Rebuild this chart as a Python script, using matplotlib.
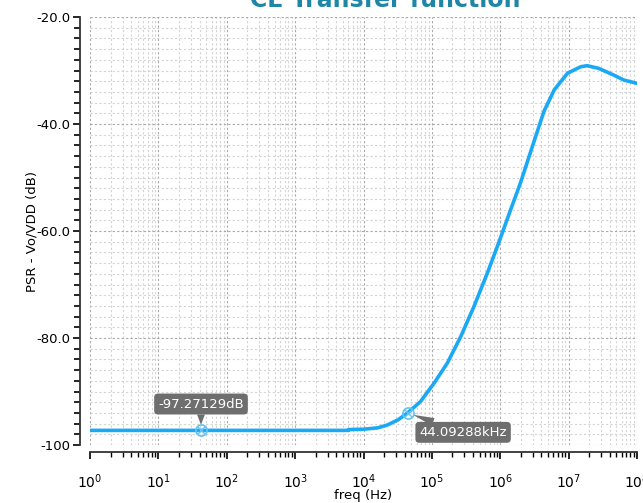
import numpy as np
import matplotlib
matplotlib.use("Agg")
import matplotlib.pyplot as plt
from matplotlib.ticker import LogLocator, MultipleLocator, FixedLocator, NullFormatter

# PSR curve (frequency in Hz, magnitude in dB)
freq = [1.0, 6.0e3, 6.1e3, 1.0e4, 1.6e4, 2.2e4, 3.2e4, 4.409e4, 6.8e4,
        1.07e5, 1.68e5, 2.63e5, 4.13e5, 6.46e5, 9.5e5, 1.43e6, 1.78e6,
        2.0e6, 3.13e6, 4.37e6, 6.17e6, 9.66e6, 1.5e7, 1.86e7, 2.75e7,
        4.47e7, 6.46e7, 1.0e8]
psr_db = [-97.27, -97.27, -97.12, -97.05, -96.8, -96.3, -95.3, -94.0, -91.9,
          -88.5, -84.7, -79.8, -74.1, -67.9, -62.2, -55.9, -52.6,
          -50.8, -43.2, -37.6, -33.6, -30.5, -29.3, -29.1, -29.6,
          -30.8, -31.8, -32.4]

# markers
mark_f = [42.0, 44.09288e3]
mark_db = [-97.27129, -94.0]
mark_txt = ["-97.27129dB", "44.09288kHz"]

y_ticks = [-100, -80, -60, -40, -20]
y_labels = ["-100", "-80.0", "-60.0", "-40.0", "-20.0"]

fig = plt.figure(figsize=(6.43, 5.03), dpi=100)
ax = fig.add_axes([90 / 643, 1 - 445 / 503, 547 / 643, 428 / 503])

ax.semilogx(freq, psr_db, color="#1ba9f5", lw=2.6, zorder=3)
ax.set_xlim(1, 1e8)
ax.set_ylim(-100, -20)

# grid
ax.xaxis.set_major_locator(LogLocator(base=10, numticks=12))
ax.xaxis.set_minor_locator(LogLocator(base=10, subs=np.arange(2, 10), numticks=12))
ax.xaxis.set_minor_formatter(NullFormatter())
ax.yaxis.set_major_locator(FixedLocator(y_ticks))
ax.yaxis.set_minor_locator(MultipleLocator(2))
ax.set_yticklabels(y_labels)
ax.grid(which="major", color="#a8a8a8", ls=(0, (2, 2)), lw=0.8)
ax.grid(which="minor", color="#d4d4d4", ls=(0, (2, 2)), lw=0.8)

for s in ["top", "right"]:
    ax.spines[s].set_visible(False)
ax.spines["left"].set_position(("outward", 7.2))
ax.spines["bottom"].set_position(("outward", 5))
for s in ["left", "bottom"]:
    ax.spines[s].set_linewidth(1.3)
    ax.spines[s].set_color("#333333")

ax.tick_params(axis="y", which="major", length=5, width=1.2, labelsize=9.5, pad=2)
ax.tick_params(axis="y", which="minor", length=4, width=1.2)
ax.tick_params(axis="x", which="major", length=5, width=1.2, labelsize=10, pad=10)
ax.tick_params(axis="x", which="minor", length=3.5, width=1.0)

ax.set_xlabel("freq (Hz)", fontsize=9.5)
ax.xaxis.set_label_coords(0.5, -0.103)
ax.set_ylabel("PSR - Vo/VDD (dB)", fontsize=9.5)
ax.yaxis.set_label_coords(-0.095, 0.5)

# markers with callouts
for f, v in zip(mark_f, mark_db):
    ax.plot(f, v, marker="o", ms=8, mfc="none", mec="#62c3f5", mew=1.2, zorder=4)
    ax.plot(f, v, marker="x", ms=6, mec="#62c3f5", mew=1.0, zorder=4)

box = dict(boxstyle="round,pad=0.3,rounding_size=0.3", fc="#6e6e6e", ec="none")
ax.annotate(mark_txt[0], xy=(mark_f[0], mark_db[0]), xytext=(0, 19),
            textcoords="offset points", ha="center", va="center",
            color="white", fontsize=9.5, bbox=box,
            arrowprops=dict(arrowstyle="wedge,tail_width=0.6", fc="#6e6e6e",
                            ec="none", shrinkA=0, shrinkB=4))
ax.annotate(mark_txt[1], xy=(mark_f[1], mark_db[1]), xytext=(40, -14),
            textcoords="offset points", ha="center", va="center",
            color="white", fontsize=9.5, bbox=box,
            arrowprops=dict(arrowstyle="wedge,tail_width=0.6", fc="#6e6e6e",
                            ec="none", shrinkA=0, shrinkB=4))

fig.text(385 / 643, 1 - 7 / 503, "CE Transfer function", color="#1f86a6",
         fontsize=17, fontweight="bold", ha="center", va="baseline")

fig.savefig("out.png", dpi=100)
